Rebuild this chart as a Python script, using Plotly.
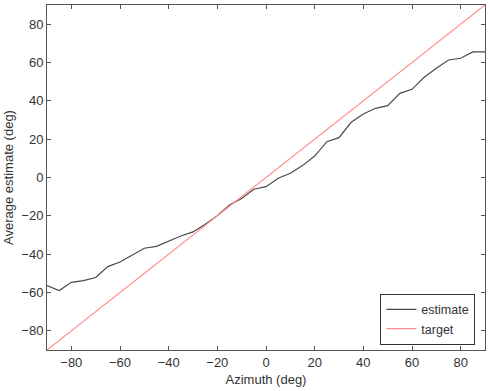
import plotly.graph_objects as go

azimuth = [-90, -85, -80, -75, -70, -65, -60, -55, -50, -45, -40, -35, -30, -25, -20,
           -15, -10, -5, 0, 5, 10, 15, 20, 25, 30, 35, 40, 45, 50, 55, 60, 65, 70, 75,
           80, 85, 90]
estimate = [-56.4, -59.0, -54.7, -53.8, -52.2, -46.5, -44.1, -40.4, -36.9, -35.9, -33.1,
            -30.5, -28.4, -24.4, -19.9, -14.3, -10.9, -6.1, -4.8, -0.4, 2.2, 6.2, 11.2,
            18.7, 20.8, 28.8, 33.1, 36.1, 37.5, 43.9, 46.0, 52.3, 57.0, 61.3, 62.2, 65.5,
            65.5]
target_x = [-90, 90]
target_y = [-90, 90]
ticks = [-80, -60, -40, -20, 0, 20, 40, 60, 80]

FONT = "Liberation Sans, Arial"
fig = go.Figure()
fig.add_trace(go.Scatter(x=azimuth, y=estimate, mode="lines", name="estimate",
                         line=dict(color="#4a4a4a", width=1.2)))
fig.add_trace(go.Scatter(x=target_x, y=target_y, mode="lines", name="target",
                         line=dict(color="#ff9090", width=1.2)))

axis_common = dict(showgrid=False, zeroline=False, showline=True, linecolor="#555555",
                   linewidth=1, mirror="ticks", ticks="inside", ticklen=4,
                   tickcolor="#555555", tickvals=ticks,
                   tickfont=dict(family=FONT, size=13, color="#333333"))

fig.update_layout(
    width=490, height=391,
    margin=dict(l=47, r=5, t=5, b=41),
    paper_bgcolor="white", plot_bgcolor="white",
    xaxis=dict(range=[-90, 90], title=dict(text="Azimuth (deg)", standoff=6,
               font=dict(family=FONT, size=13, color="#333333")),
               **axis_common),
    yaxis=dict(range=[-90, 90], title=dict(text="Average estimate (deg)", standoff=4,
               font=dict(family=FONT, size=13, color="#333333")),
               **axis_common),
    legend=dict(x=0.978, y=0.015, xanchor="right", yanchor="bottom",
                bgcolor="white", bordercolor="#333333", borderwidth=1,
                font=dict(family=FONT, size=12.5, color="#333333"),
                tracegroupgap=0, itemwidth=30),
    showlegend=True,
)

fig.write_html("out.html", config={"displayModeBar": False},
               post_script="document.body.style.margin='0';document.body.style.padding='0';")
